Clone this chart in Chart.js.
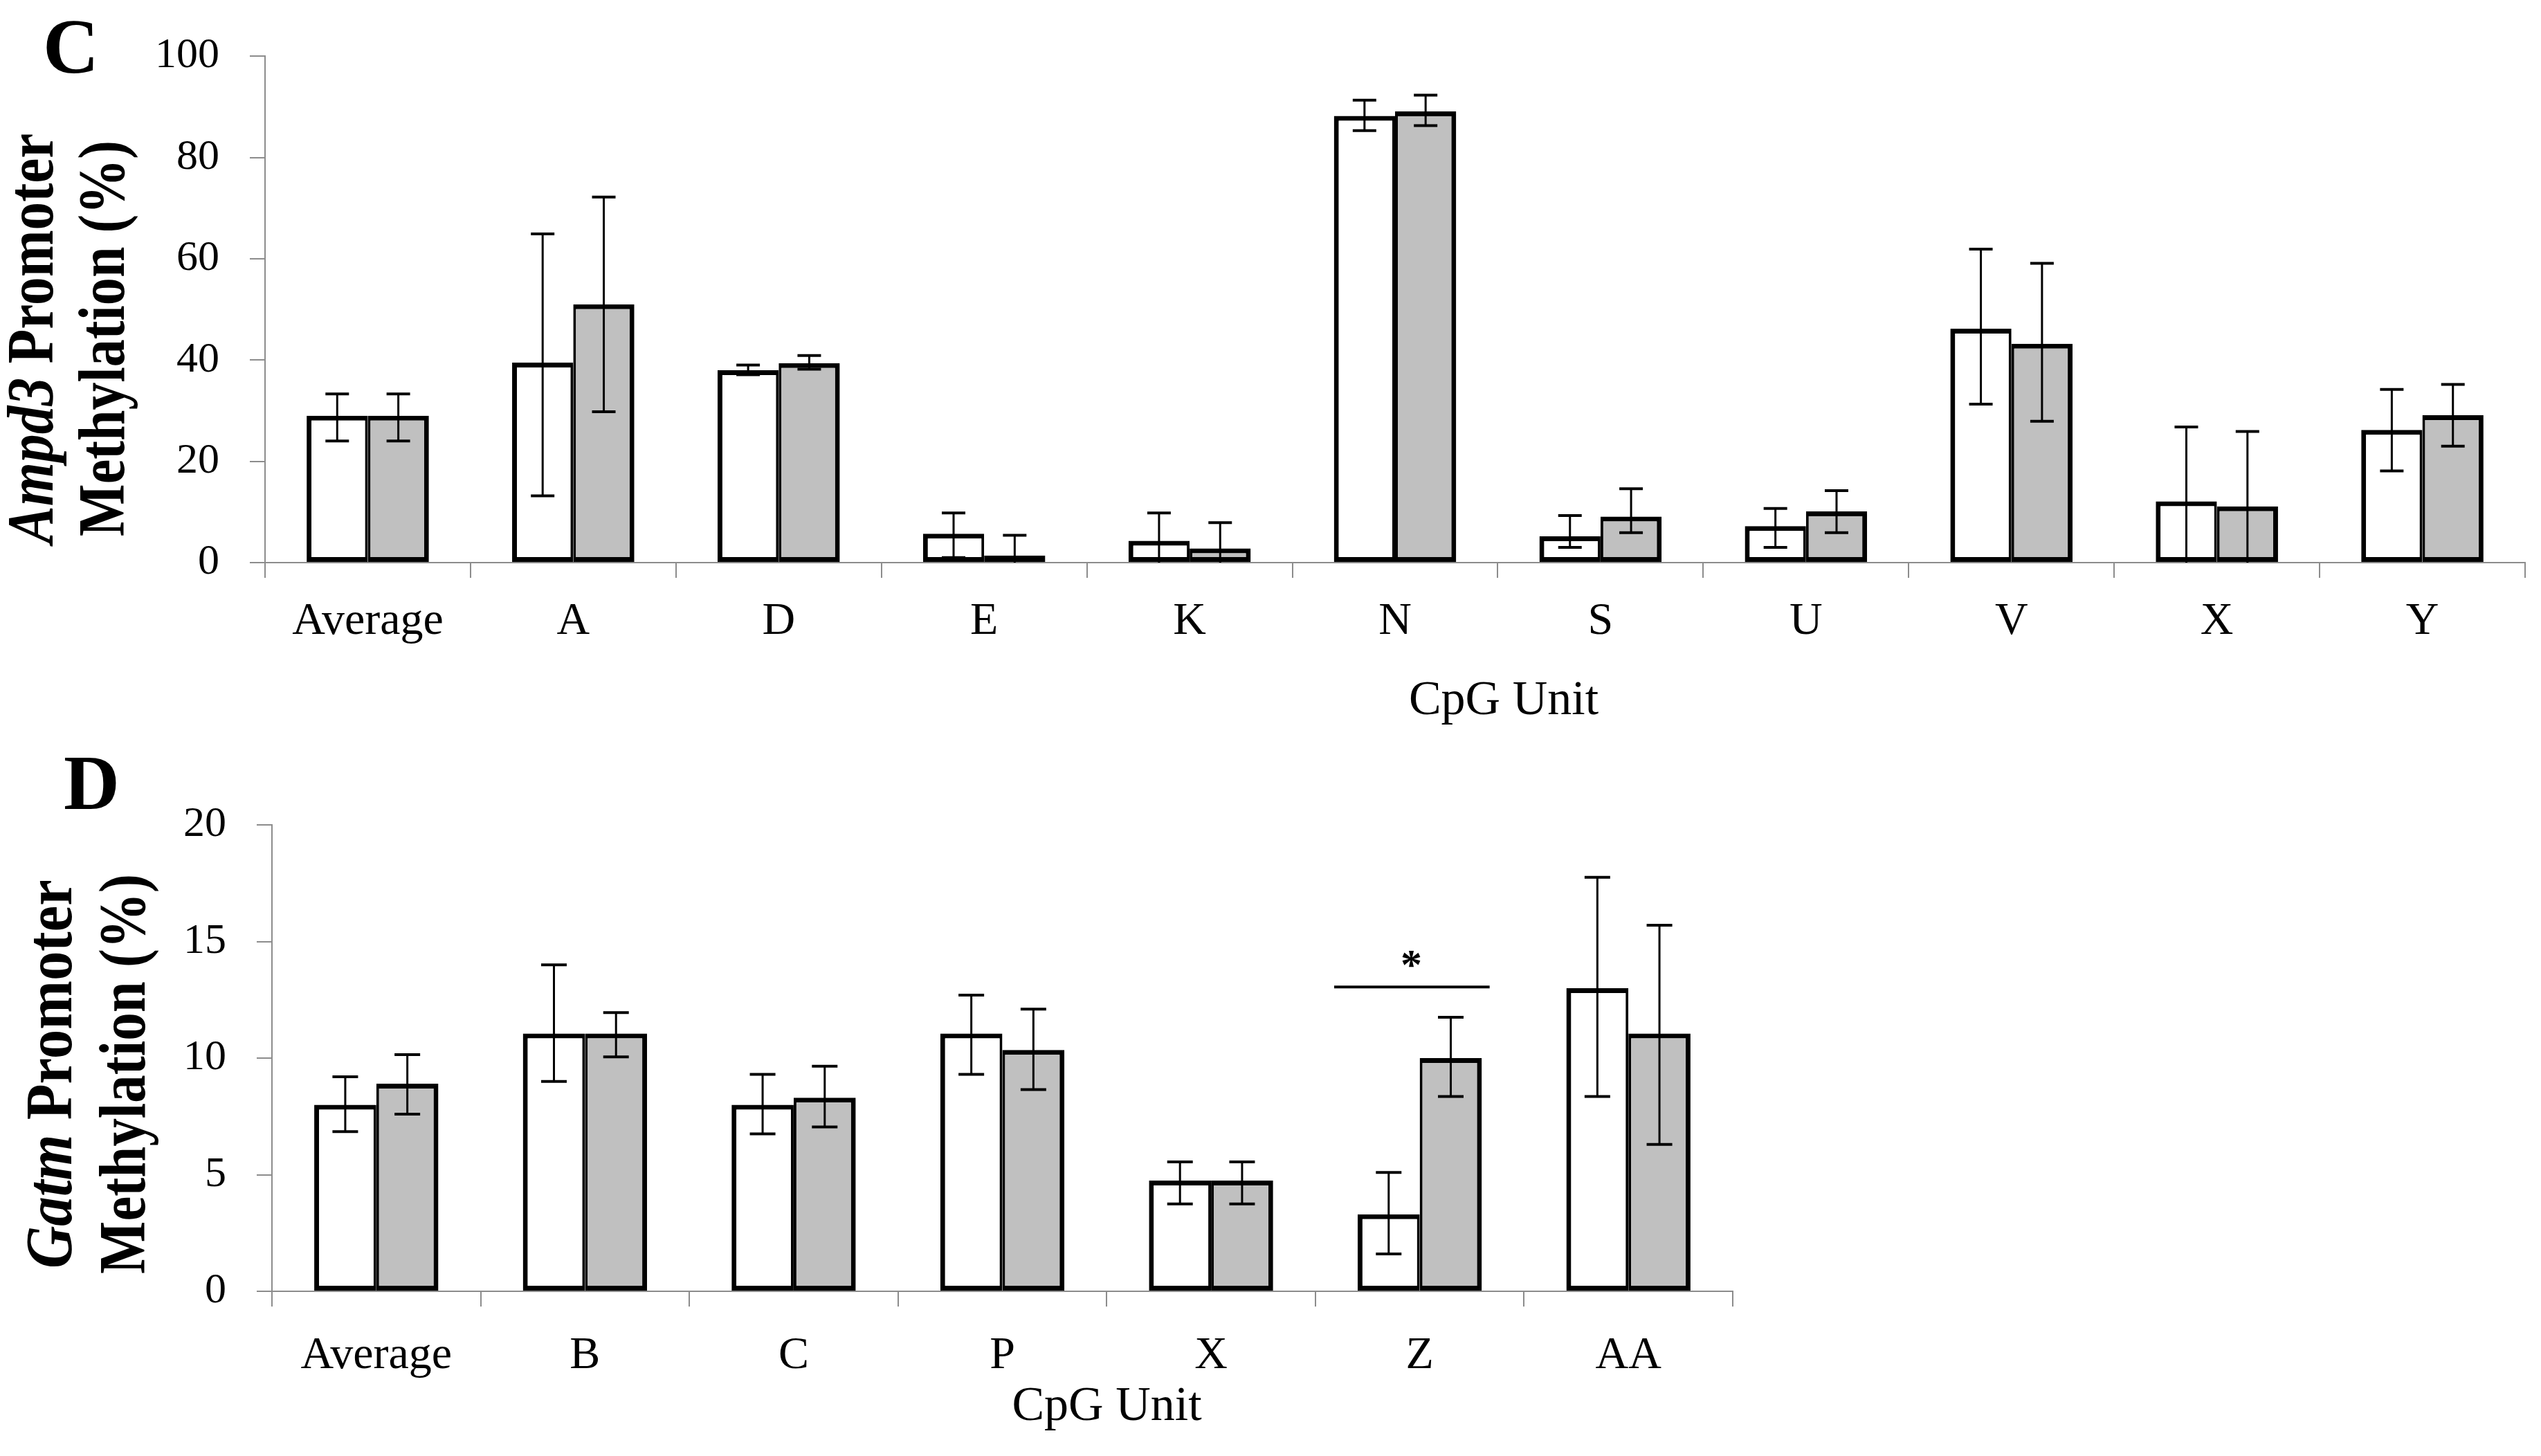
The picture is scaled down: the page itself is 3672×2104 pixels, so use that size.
<!DOCTYPE html>
<html>
<head>
<meta charset="utf-8">
<script src="https://cdn.jsdelivr.net/npm/chart.js@4.4.0/dist/chart.umd.min.js"></script>
<style>
  html, body { margin: 0; padding: 0; background: #fff; }
  #boxC { position: absolute; left: 0; top: 0; width: 3672px; height: 1060px; }
  #boxD { position: absolute; left: 0; top: 1080px; width: 2600px; height: 1024px; }
</style>
</head>
<body>
<div id="boxC"><canvas id="chartC" width="3672" height="1060"></canvas></div>
<div id="boxD"><canvas id="chartD" width="2600" height="1024"></canvas></div>
<script>
// Panel C - Ampd3 promoter methylation (%)
const unitsC = ["Average", "A", "D", "E", "K", "N", "S", "U", "V", "X", "Y"];
const whiteC = [29.0, 39.5, 38.0, 5.7, 4.3, 88.2, 5.2, 7.2, 46.2, 12.1, 26.2];
const whiteHiC = [33.3, 64.9, 39.0, 9.8, 9.8, 91.3, 9.3, 10.7, 61.9, 26.8, 34.2];
const whiteLoC = [24.0, 13.2, 37.1, 1.0, -1.3, 85.3, 3.0, 3.0, 31.3, -2.6, 18.1];
const grayC = [29.0, 51.0, 39.4, 1.4, 2.8, 89.1, 9.1, 10.1, 43.2, 11.1, 29.1];
const grayHiC = [33.3, 72.2, 40.9, 5.4, 7.9, 92.3, 14.6, 14.2, 59.1, 25.9, 35.2];
const grayLoC = [24.0, 29.8, 38.2, -2.7, -2.3, 86.3, 5.9, 5.9, 27.9, -3.7, 23.0];
const maxC = 100, stepC = 20;

// Panel D - Gatm promoter methylation (%)
const unitsD = ["Average", "B", "C", "P", "X", "Z", "AA"];
const whiteD = [8.0, 11.05, 8.0, 11.05, 4.75, 3.3, 13.0];
const whiteHiD = [9.2, 14.0, 9.3, 12.7, 5.55, 5.1, 17.75];
const whiteLoD = [6.85, 9.0, 6.75, 9.3, 3.75, 1.6, 8.35];
const grayD = [8.9, 11.05, 8.3, 10.35, 4.75, 10.0, 11.05];
const grayHiD = [10.15, 11.95, 9.65, 12.1, 5.55, 11.75, 15.7];
const grayLoD = [7.6, 10.05, 7.05, 8.65, 3.75, 8.35, 6.3];
const maxD = 20, stepD = 5;
const sigUnitD = "Z", sigLevelD = 13.05, sigMarkD = "*";

const SERIF = '"Liberation Serif", "Times New Roman", serif';
const AXIS_GRAY = "#8c8c8c";

function line(ctx, x0, y0, x1, y1) {
  ctx.beginPath();
  ctx.moveTo(x0, y0);
  ctx.lineTo(x1, y1);
  ctx.stroke();
}

// rotated y title, parts can mix italic and upright text
function rotatedLine(ctx, parts, baseX, cy, size, targetLen) {
  const fonts = parts.map(p => (p.italic ? "bold italic " : "bold ") + size + "px " + SERIF);
  const widths = parts.map((p, k) => { ctx.font = fonts[k]; return ctx.measureText(p.text).width; });
  const total = widths.reduce((a, b) => a + b, 0);
  ctx.save();
  ctx.translate(baseX, cy);
  ctx.rotate(-Math.PI / 2);
  ctx.scale(targetLen / total, 1);
  ctx.textBaseline = "alphabetic";
  ctx.textAlign = "left";
  let x = -total / 2;
  parts.forEach((p, k) => {
    ctx.font = fonts[k];
    ctx.fillText(p.text, x, 0);
    x += widths[k];
  });
  ctx.restore();
}

const extras = {
  id: "extras",
  afterDatasetsDraw(chart, args, opts) {
    const { ctx, chartArea: a, scales: { x, y } } = chart;

    // error bars
    ctx.save();
    ctx.beginPath();
    ctx.rect(a.left, a.top - 60, a.right - a.left, a.bottom - a.top + 60);
    ctx.clip();
    ctx.strokeStyle = "#000";
    chart.data.datasets.forEach((ds, i) => {
      chart.getDatasetMeta(i).data.forEach((bar, j) => {
        const hi = y.getPixelForValue(ds.errHi[j]);
        const lo = y.getPixelForValue(ds.errLo[j]);
        const c = opts.cap / 2;
        ctx.lineWidth = 3;
        line(ctx, bar.x, hi, bar.x, lo);
        ctx.lineWidth = 4;
        line(ctx, bar.x - c, hi, bar.x + c, hi);
        line(ctx, bar.x - c, lo, bar.x + c, lo);
      });
    });
    ctx.restore();

    ctx.save();
    ctx.fillStyle = "#000";
    // panel letter
    ctx.font = "bold " + opts.letter.size + "px " + SERIF;
    ctx.textAlign = "left";
    ctx.textBaseline = "alphabetic";
    ctx.fillText(opts.letter.text, opts.letter.x, opts.letter.y);

    // y title, two lines
    opts.yTitle.lines.forEach(l => rotatedLine(ctx, l.parts, l.x, opts.yTitle.cy, opts.yTitle.size, l.len));

    // x title
    ctx.font = opts.xTitle.size + "px " + SERIF;
    ctx.textAlign = "center";
    ctx.fillText(opts.xTitle.text, (a.left + a.right) / 2 + opts.xTitle.dx, opts.xTitle.y);

    // significance bar
    if (opts.sig) {
      const idx = chart.data.labels.indexOf(opts.sig.unit);
      const cw = (a.right - a.left) / chart.data.labels.length;
      const cx = x.getPixelForValue(idx);
      const sy = y.getPixelForValue(opts.sig.level);
      ctx.strokeStyle = "#000";
      ctx.lineWidth = 4;
      line(ctx, cx - 0.41 * cw, sy, cx + 0.335 * cw, sy);
      ctx.font = "bold 62px " + SERIF;
      ctx.fillText(opts.sig.mark, cx - 0.04 * cw, sy - 12);
    }
    ctx.restore();
  }
};

function makeChart(id, cfg) {
  const barBase = { borderColor: "#000", borderSkipped: false, categoryPercentage: 0.595, barPercentage: 1.0 };
  return new Chart(document.getElementById(id), {
    type: "bar",
    data: {
      labels: cfg.labels,
      datasets: [
        Object.assign({ data: cfg.white, errHi: cfg.whiteHi, errLo: cfg.whiteLo, backgroundColor: "#ffffff",
          borderWidth: { left: 7, top: 7, bottom: 7, right: 4 } }, barBase),
        Object.assign({ data: cfg.gray, errHi: cfg.grayHi, errLo: cfg.grayLo, backgroundColor: "#c0c0c0",
          borderWidth: { left: 4, top: 7, bottom: 7, right: 7 } }, barBase)
      ]
    },
    options: {
      responsive: false,
      animation: false,
      devicePixelRatio: 1,
      layout: { padding: { left: 0, top: cfg.padTop, right: cfg.padRight, bottom: 0 } },
      plugins: { legend: { display: false }, tooltip: { enabled: false }, extras: cfg.extras },
      scales: {
        x: {
          grid: { offset: true, drawOnChartArea: false, drawTicks: true, tickLength: 22, color: AXIS_GRAY, lineWidth: 2 },
          border: { color: AXIS_GRAY, width: 2 },
          ticks: { color: "#000", font: { family: SERIF, size: 66 }, padding: cfg.xPad, maxRotation: 0, autoSkip: false },
          afterFit: s => { s.height = cfg.xHeight; }
        },
        y: {
          min: 0,
          max: cfg.max,
          ticks: { stepSize: cfg.step, color: "#000", font: { family: SERIF, size: 62 }, padding: 44 },
          grid: { drawOnChartArea: false, drawTicks: true, tickLength: 22, color: AXIS_GRAY, lineWidth: 2 },
          border: { color: AXIS_GRAY, width: 2 },
          afterFit: s => { s.width = cfg.yWidth; }
        }
      }
    },
    plugins: [extras]
  });
}

makeChart("chartC", {
  labels: unitsC,
  white: whiteC, whiteHi: whiteHiC, whiteLo: whiteLoC,
  gray: grayC, grayHi: grayHiC, grayLo: grayLoC,
  max: maxC, step: stepC,
  padTop: 81, padRight: 23, xHeight: 247, yWidth: 383, xPad: 24,
  extras: {
    cap: 34,
    letter: { text: "C", x: 62, y: 105, size: 112 },
    yTitle: {
      cy: 489, size: 96,
      lines: [
        { parts: [{ text: "Ampd3", italic: true }, { text: " Promoter" }], x: 76, len: 593 },
        { parts: [{ text: "Methylation (%)" }], x: 179, len: 572 }
      ]
    },
    xTitle: { text: "CpG Unit", size: 70, dx: 157, y: 1032 }
  }
});

makeChart("chartD", {
  labels: unitsD,
  white: whiteD, whiteHi: whiteHiD, whiteLo: whiteLoD,
  gray: grayD, grayHi: grayHiD, grayLo: grayLoD,
  max: maxD, step: stepD,
  padTop: 112, padRight: 96, xHeight: 238, yWidth: 393, xPad: 32,
  extras: {
    cap: 37,
    letter: { text: "D", x: 92, y: 89, size: 112 },
    yTitle: {
      cy: 472, size: 96,
      lines: [
        { parts: [{ text: "Gatm", italic: true }, { text: " Promoter" }], x: 103, len: 562 },
        { parts: [{ text: "Methylation (%)" }], x: 209, len: 578 }
      ]
    },
    xTitle: { text: "CpG Unit", size: 70, dx: 151, y: 972 },
    sig: { unit: sigUnitD, level: sigLevelD, mark: sigMarkD }
  }
});
</script>
</body>
</html>
